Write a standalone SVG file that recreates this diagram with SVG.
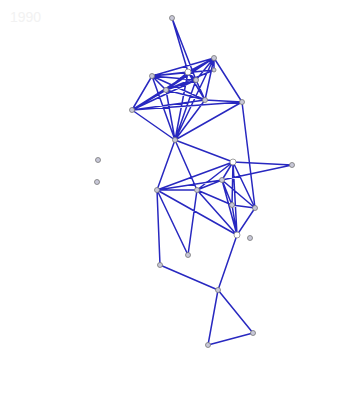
<svg xmlns="http://www.w3.org/2000/svg" width="362" height="398" viewBox="0 0 362 398">
<style>
.e{stroke:#2828c0;stroke-width:1.5;fill:none;stroke-linecap:round}
.n{fill:#c8c8d8;stroke:#777;stroke-width:0.8}
.w{fill:#ffffff;stroke:#888;stroke-width:0.8}
.t{font-family:"Liberation Sans",Arial,sans-serif;font-size:14px;fill:#f2f2f2}
</style>
<rect width="362" height="398" fill="#ffffff"/>
<text class="t" x="10" y="22">1990</text>
<g id="connectors">
<path class="e" d="M172,18L188,72M172,18L196,80M214,58L152,76M214,58L188,72M214,58L196,80M214,58L166,90M214,58L132,110M214,58L242,102M214,58L205,100M214,58L175,140M152,76L188,72M152,76L196,80M152,76L166,90M152,76L132,110M152,76L205,100M152,76L175,140M188,72L196,80M188,72L166,90M188,72L205,100M188,72L175,140M196,80L166,90M196,80L132,110M196,80L205,100M196,80L175,140M166,90L132,110M166,90L205,100M166,90L175,140M132,110L242,102M132,110L205,100M132,110L175,140M242,102L205,100M242,102L175,140M205,100L175,140M242,102L255,208M152,76L214,70M166,90L214,70M214,70L214,58"/>
<path class="e" d="M175,140L233,162M175,140L157,190M175,140L197,190M233,162L292,165M222,180L292,165M233,162L157,190M233,162L197,190M233,162L222,180M233,162L232,205M233,162L255,208M233,162L237,235M157,190L197,190M157,190L222,180M197,190L222,180M197,190L232,205M197,190L237,235M222,180L232,205M222,180L255,208M222,180L237,235M232,205L255,208M232,205L237,235M255,208L237,235M157,190L188,255M197,190L188,255M157,190L160,265M157,190L237,235"/>
<path class="e" d="M160,265L218,290M237,235L218,290M218,290L253,333M218,290L208,345M253,333L208,345"/>
</g>
<g id="nodes">
<g id="n1"><circle class="n" cx="172" cy="18" r="2.5"/></g>
<g id="n2"><circle class="n" cx="214" cy="58" r="2.5"/></g>
<g id="n3"><circle class="n" cx="152" cy="76" r="2.5"/></g>
<g id="n4"><circle class="w" cx="188" cy="72" r="3"/></g>
<g id="n5"><circle class="n" cx="196" cy="80" r="2.5"/></g>
<g id="n6"><circle class="n" cx="166" cy="90" r="2.5"/></g>
<g id="n7"><circle class="n" cx="132" cy="110" r="2.5"/></g>
<g id="n8"><circle class="n" cx="242" cy="102" r="2.5"/></g>
<g id="n9"><circle class="n" cx="205" cy="100" r="2.5"/></g>
<g id="n10"><circle class="n" cx="175" cy="140" r="2.5"/></g>
<g id="n11"><circle class="w" cx="233" cy="162" r="3"/></g>
<g id="n12"><circle class="n" cx="292" cy="165" r="2.5"/></g>
<g id="n13"><circle class="n" cx="157" cy="190" r="2.5"/></g>
<g id="n14"><circle class="n" cx="197" cy="190" r="2.5"/></g>
<g id="n15"><circle class="n" cx="222" cy="180" r="2.5"/></g>
<g id="n16"><circle class="n" cx="232" cy="205" r="2.5"/></g>
<g id="n17"><circle class="n" cx="255" cy="208" r="2.5"/></g>
<g id="n18"><circle class="w" cx="237" cy="235" r="3"/></g>
<g id="n19"><circle class="n" cx="188" cy="255" r="2.5"/></g>
<g id="n20"><circle class="n" cx="160" cy="265" r="2.5"/></g>
<g id="n21"><circle class="n" cx="218" cy="290" r="2.5"/></g>
<g id="n22"><circle class="n" cx="253" cy="333" r="2.5"/></g>
<g id="n23"><circle class="n" cx="208" cy="345" r="2.5"/></g>
<g id="n24"><circle class="n" cx="98" cy="160" r="2.5"/></g>
<g id="n25"><circle class="n" cx="97" cy="182" r="2.5"/></g>
<g id="n26"><circle class="n" cx="250" cy="238" r="2.5"/></g>
<g id="n27"><circle class="n" cx="214" cy="70" r="2"/></g>
</g>
</svg>
